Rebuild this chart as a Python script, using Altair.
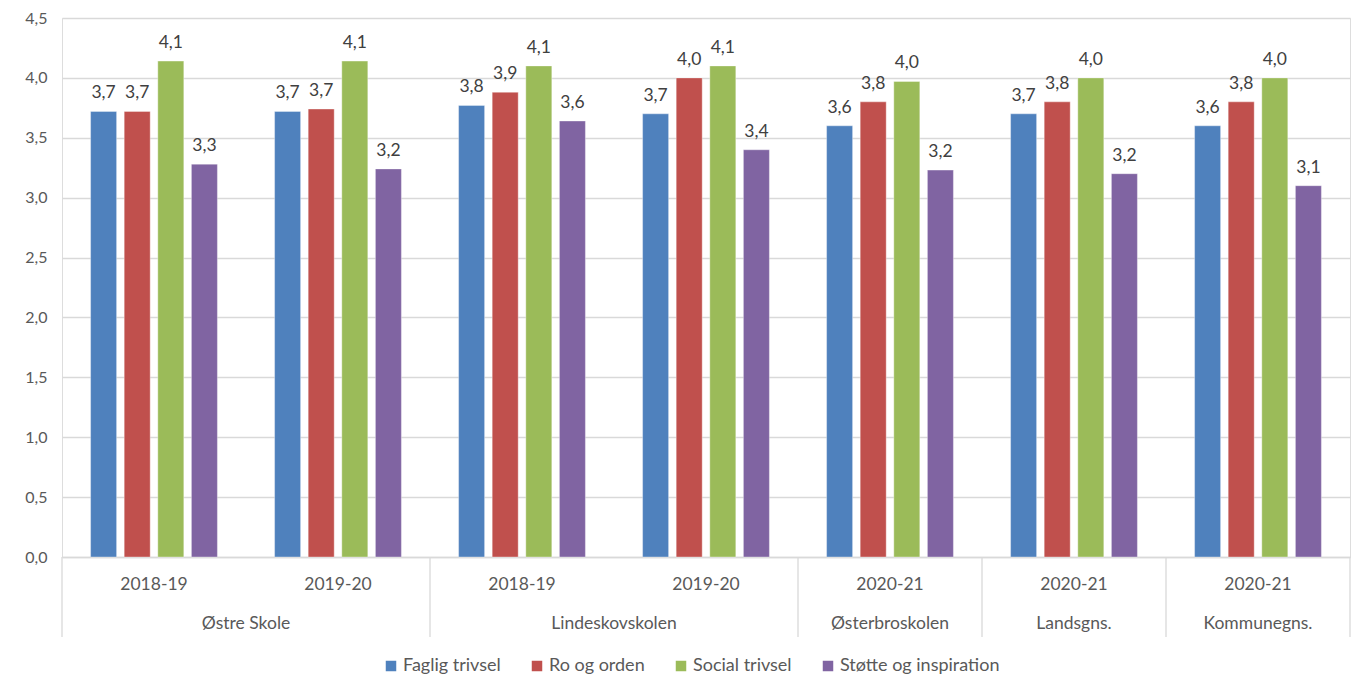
import altair as alt
import pandas as pd

schools = ["Østre Skole", "Østre Skole", "Lindeskovskolen", "Lindeskovskolen",
           "Østerbroskolen", "Landsgns.", "Kommunegns."]
years = ["2018-19", "2019-20", "2018-19", "2019-20", "2020-21", "2020-21", "2020-21"]
series = ["Faglig trivsel", "Ro og orden", "Social trivsel", "Støtte og inspiration"]
colors = ["#4F81BD", "#C0504D", "#9BBB59", "#8064A2"]

faglig = [3.72, 3.72, 3.77, 3.70, 3.60, 3.70, 3.60]
ro = [3.72, 3.74, 3.88, 4.00, 3.80, 3.80, 3.80]
social = [4.14, 4.14, 4.10, 4.10, 3.97, 4.00, 4.00]
stotte = [3.28, 3.24, 3.64, 3.40, 3.23, 3.20, 3.10]

keys = [f"{s}|{y}" for s, y in zip(schools, years)]

rows = []
for vals, name in zip([faglig, ro, social, stotte], series):
    for k, v in zip(keys, vals):
        rows.append({"kat": k, "serie": name, "v": v})
df = pd.DataFrame(rows)

cat_df = pd.DataFrame({"kat": keys, "year": years})

# group spans
group_names = []
group_first = []
group_last = []
group_span = []
for i, (s, k) in enumerate(zip(schools, keys)):
    if i == 0 or schools[i - 1] != s:
        group_names.append(s)
        group_first.append(k)
        group_last.append(k)
        group_span.append(1)
    else:
        group_last[-1] = k
        group_span[-1] += 1
grp_df = pd.DataFrame({"name": group_names, "first": group_first,
                       "last": group_last, "span": group_span})

W, H = 1288, 539
FONT = "Lato"
TXT = "#595959"
CAT_FS = 17.5

xscale = alt.Scale(domain=keys, paddingInner=0, paddingOuter=0)
off_scale = alt.Scale(domain=series, paddingInner=0.226, paddingOuter=0.851)

base = alt.Chart(df)

bars = base.mark_bar(stroke="white", strokeWidth=0.6, strokeOpacity=0.6).encode(
    x=alt.X("kat:N", scale=xscale, axis=alt.Axis(labels=False, ticks=False, title=None,
                                                  domain=True, domainColor="#D9D9D9",
                                                  domainWidth=1.3)),
    xOffset=alt.XOffset("serie:N", sort=series, scale=off_scale),
    y=alt.Y("v:Q", scale=alt.Scale(domain=[0, 4.5], nice=False),
            axis=alt.Axis(title=None, values=[i * 0.5 for i in range(10)],
                          labelExpr="replace(format(datum.value, '.1f'), '.', ',')",
                          ticks=False, domain=False, grid=True, gridColor="#D9D9D9",
                          gridWidth=1.3, labelFont=FONT, labelFontSize=16,
                          labelColor=TXT, labelPadding=15)),
    color=alt.Color("serie:N", sort=series,
                    scale=alt.Scale(domain=series, range=colors),
                    legend=alt.Legend(title=None, orient="none", direction="horizontal",
                                      legendX=320, legendY=639, symbolType="square",
                                      symbolSize=110, symbolStrokeWidth=0,
                                      labelFont=FONT, labelFontSize=18, labelColor=TXT,
                                      columnPadding=27, labelOffset=3)),
)

labels = base.mark_text(font=FONT, fontSize=17.5, color="#404040", dy=-13,
                        baseline="alphabetic").transform_calculate(
    lab="replace(format(datum.v, '.1f'), '.', ',')"
).encode(
    x=alt.X("kat:N", scale=xscale),
    xOffset=alt.XOffset("serie:N", sort=series, scale=off_scale),
    y="v:Q",
    text="lab:N",
)

year_text = alt.Chart(cat_df).mark_text(font=FONT, fontSize=CAT_FS, color=TXT,
                                         baseline="middle").encode(
    x=alt.X("kat:N", scale=xscale, bandPosition=0.5),
    y=alt.value(H + 28),
    text="year:N",
)

grp2 = alt.Chart(grp_df).transform_filter("datum.span == 2").mark_text(
    font=FONT, fontSize=CAT_FS, color=TXT, baseline="middle").encode(
    x=alt.X("first:N", scale=xscale, bandPosition=1),
    y=alt.value(H + 67),
    text="name:N",
)
grp1 = alt.Chart(grp_df).transform_filter("datum.span == 1").mark_text(
    font=FONT, fontSize=CAT_FS, color=TXT, baseline="middle").encode(
    x=alt.X("first:N", scale=xscale, bandPosition=0.5),
    y=alt.value(H + 67),
    text="name:N",
)

sep_start = alt.Chart(grp_df).mark_rule(color="#D9D9D9", strokeWidth=1.3).encode(
    x=alt.X("first:N", scale=xscale, bandPosition=0),
    y=alt.value(H),
    y2=alt.value(H + 80),
)
sep_end = alt.Chart(grp_df.tail(1)).mark_rule(color="#D9D9D9", strokeWidth=1.3).encode(
    x=alt.X("last:N", scale=xscale, bandPosition=1),
    y=alt.value(H),
    y2=alt.value(H + 80),
)

chart = alt.layer(bars, labels, year_text, grp2, grp1, sep_start, sep_end).properties(
    width=W, height=H,
    autosize=alt.AutoSizeParams(type="none"),
    padding={"left": 54, "top": 10, "right": 2, "bottom": 122},
).configure_view(stroke=None).configure(background="white")

chart.save("out.html", embed_options={"renderer": "svg", "actions": False})
